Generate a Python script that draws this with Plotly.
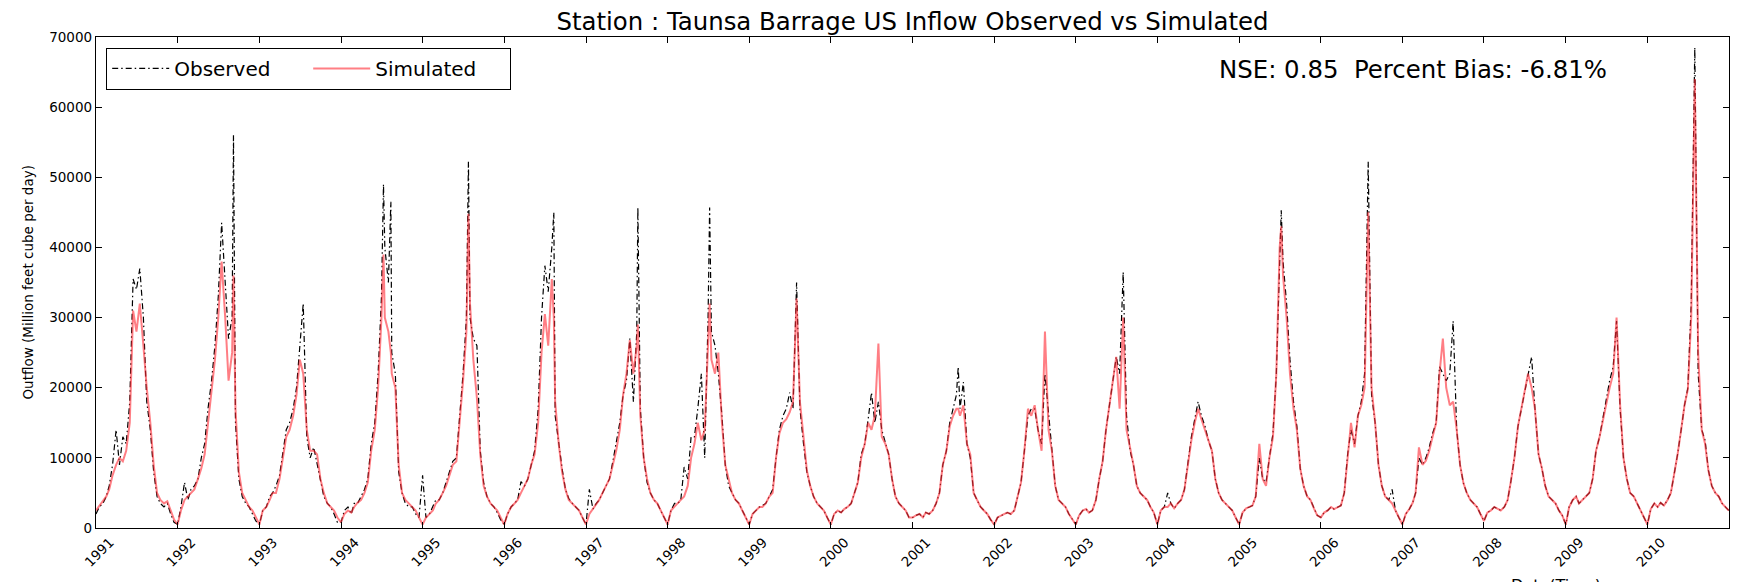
import plotly.graph_objects as go

# ---------------- data ----------------
years = list(range(1991, 2011))
tick_labels = [str(y) for y in years]

# semi-monthly readings: 1st and 16th of each month, 24 per year
sim_values = [
    2500, 3200, 3800, 4500, 5500, 7500, 9000, 10000, 9500, 11000, 15000, 31000, 28000, 32000, 26000, 20000, 15000, 9000, 5000, 4000, 3500, 3800, 2500, 1200,   # 1991
    500, 2500, 4000, 4500, 5000, 5500, 7000, 8500, 10500, 15000, 19000, 24000, 30000, 38000, 30000, 21000, 25000, 17000, 8000, 5000, 4000, 3000, 2500, 1500,    # 1992
    500, 2500, 3000, 4000, 5000, 5000, 7000, 10000, 13000, 14000, 16000, 19000, 24000, 22000, 14000, 11000, 11000, 10500, 7000, 5000, 3500, 3000, 2500, 1500,  # 1993
    800, 2000, 2500, 2200, 3000, 3600, 4000, 5000, 6500, 11000, 14000, 20000, 30000, 30000, 28000, 22000, 20000, 9000, 5000, 4000, 3500, 3000, 2500, 1500,     # 1994
    500, 1500, 2000, 2500, 3500, 4000, 5000, 6000, 7500, 9000, 9500, 15000, 21000, 28000, 32000, 24000, 18500, 10500, 6000, 4500, 3500, 3000, 2500, 1500,      # 1995
    500, 2000, 3000, 3500, 4000, 5000, 6000, 7000, 9000, 10500, 15000, 25000, 30500, 26000, 35500, 18000, 12000, 8000, 5500, 4000, 3500, 3000, 2500, 1500,     # 1996
    500, 2000, 2700, 3500, 4000, 5000, 6000, 7000, 9000, 11000, 14000, 19000, 22000, 26800, 22000, 26000, 16000, 10000, 7000, 5000, 4000, 3500, 2500, 1500,    # 1997
    500, 2500, 3000, 3500, 4000, 4500, 6000, 10000, 12000, 15000, 12500, 14000, 25000, 24000, 22000, 25000, 15000, 9000, 7000, 5000, 4000, 3500, 2500, 1500,   # 1998
    500, 2000, 2500, 3000, 3000, 3500, 4500, 5000, 10000, 13500, 15000, 15500, 16500, 18000, 32700, 18000, 13000, 8200, 6000, 4500, 3500, 3000, 2500, 1500,    # 1999
    500, 2000, 2500, 2200, 2700, 3000, 3500, 5000, 6500, 10000, 12000, 15000, 14000, 16000, 26300, 13000, 12000, 10500, 7000, 4500, 3500, 3000, 2500, 1500,    # 2000
    1500, 1800, 2000, 1500, 2200, 2000, 2500, 3500, 5000, 9000, 11000, 14500, 16000, 17000, 16000, 17500, 12000, 10500, 5000, 4000, 3000, 2500, 2000, 1200,    # 2001
    500, 1500, 1800, 2000, 2200, 2000, 2500, 4500, 6500, 11000, 17000, 16000, 17500, 14000, 11000, 28000, 14000, 11000, 6000, 4000, 3500, 3000, 2000, 1300,    # 2002
    500, 1800, 2500, 2700, 2200, 2500, 4000, 7000, 9500, 14000, 17500, 21000, 24400, 17000, 30000, 14000, 11500, 9000, 6000, 5000, 4500, 4000, 3000, 2200,     # 2003
    500, 2500, 3000, 3000, 3500, 2800, 3500, 4000, 5500, 9000, 12500, 15000, 17000, 15500, 14000, 12500, 11000, 7000, 5000, 4000, 3500, 3000, 2500, 1500,      # 2004
    500, 2200, 2800, 3000, 3200, 4500, 12000, 7000, 6000, 10000, 13000, 22000, 40000, 36000, 30000, 22000, 17000, 14000, 8500, 6000, 4500, 4000, 2800, 1800,   # 2005
    1500, 2200, 2500, 3000, 2700, 3000, 3200, 5000, 10500, 15000, 11500, 16000, 17500, 20000, 45000, 20000, 15000, 9000, 6000, 4500, 4000, 3500, 2500, 1500,   # 2006
    500, 2000, 2700, 3600, 5000, 11500, 9000, 9600, 11000, 13000, 15000, 22000, 27000, 20000, 17500, 18000, 14000, 9000, 6400, 5000, 4000, 3500, 3000, 2000,   # 2007
    1000, 2200, 2500, 3000, 2800, 2500, 3000, 4000, 6800, 10000, 14500, 17000, 19000, 22000, 20000, 17000, 10500, 8500, 6000, 4500, 4000, 3500, 2500, 1800,   # 2008
    500, 3000, 4000, 4500, 3500, 4000, 4500, 5000, 7000, 11000, 13000, 15500, 17500, 20000, 22000, 30000, 17500, 10000, 7000, 5000, 4500, 3500, 2500, 1500,    # 2009
    500, 2700, 3500, 3000, 3600, 3200, 4000, 5000, 7500, 10500, 14000, 17500, 19800, 30000, 64000, 25000, 14000, 12000, 8200, 6000, 5000, 4500, 3500, 3000,    # 2010
]

obs_values = [
    2000, 3000, 3500, 4500, 6000, 9000, 14000, 9000, 13000, 12000, 18000, 35500, 34000, 37000, 30000, 18000, 14000, 8000, 4500, 3500, 3000, 3500, 2000, 800,   # 1991
    500, 3000, 6500, 4000, 5500, 6000, 7000, 10000, 12000, 17000, 21000, 26000, 33000, 43500, 35000, 27000, 30000, 15000, 7000, 4500, 3500, 3000, 2000, 1000,  # 1992
    500, 2500, 3000, 4500, 5000, 6000, 7500, 11000, 14000, 15000, 17000, 20000, 26000, 32000, 13000, 10000, 11500, 9000, 6500, 4500, 3500, 3000, 2000, 800,    # 1993
    800, 2500, 3000, 2000, 3500, 3500, 4500, 5500, 7000, 12000, 15000, 22000, 33000, 40000, 35000, 25000, 22000, 8000, 5000, 3500, 3000, 3000, 2000, 1500,     # 1994
    7500, 1500, 2000, 3000, 4000, 4000, 5000, 6500, 8000, 9500, 10000, 16000, 22000, 30000, 30000, 27000, 26000, 11000, 6500, 4500, 3500, 3000, 2200, 1200,    # 1995
    500, 2000, 3000, 3600, 4000, 6600, 6000, 7000, 9000, 11000, 17000, 30000, 37400, 33700, 40000, 16000, 12000, 8500, 5500, 4200, 3500, 3000, 2500, 1500,     # 1996
    500, 5500, 2700, 3500, 4000, 5000, 6000, 7000, 9500, 12000, 15000, 19000, 21000, 27000, 18000, 28000, 17000, 10000, 6500, 5000, 4000, 3500, 2500, 1500,    # 1997
    500, 2500, 3500, 3500, 4000, 8700, 7000, 13000, 13000, 17000, 22000, 10000, 30000, 28000, 26000, 22000, 16000, 9000, 6000, 5000, 4000, 3500, 2500, 1500,   # 1998
    500, 2000, 2500, 3000, 3200, 3500, 4500, 5500, 10000, 14000, 16000, 17000, 19300, 17000, 35000, 17000, 12000, 8000, 6000, 4500, 3500, 3000, 2500, 1500,    # 1999
    500, 2000, 2500, 2200, 2700, 3000, 3500, 5000, 6500, 10500, 12000, 15500, 19300, 15000, 18000, 14000, 12000, 10500, 7000, 4500, 3500, 3000, 2500, 1500,    # 2000
    1500, 1800, 2000, 1500, 2200, 2000, 2500, 3500, 5000, 9000, 11000, 15000, 17000, 19000, 17000, 20800, 12000, 10000, 5000, 4000, 3000, 2500, 2000, 1200,    # 2001
    500, 1500, 1800, 2000, 2200, 2000, 2500, 4500, 6500, 11000, 16000, 17000, 17000, 14000, 12000, 22000, 16000, 11000, 6000, 4000, 3500, 3000, 2000, 1300,    # 2002
    500, 1800, 2500, 2700, 2200, 2500, 4000, 7000, 9500, 14000, 17500, 21000, 24400, 22000, 36500, 16000, 11000, 9000, 6000, 5000, 4500, 4000, 3000, 2200,     # 2003
    500, 2500, 3000, 5000, 3500, 2800, 3500, 4000, 5500, 9000, 13000, 15500, 18000, 16000, 14500, 12500, 11000, 7000, 5000, 4000, 3500, 3000, 2500, 1500,      # 2004
    500, 2200, 2800, 3000, 3200, 4500, 10000, 7000, 6500, 10000, 13500, 22000, 40000, 38000, 32000, 24000, 18000, 14500, 8500, 6000, 4500, 4000, 2800, 1800,   # 2005
    1500, 2200, 2500, 3000, 2700, 3000, 3200, 5000, 10500, 14000, 12000, 16000, 18000, 22000, 52200, 19000, 15000, 9000, 6000, 4500, 4000, 5500, 2500, 1500,   # 2006
    500, 2000, 2700, 3600, 5000, 10000, 9000, 10000, 11500, 13500, 15000, 23000, 22000, 21000, 22000, 29500, 14000, 9000, 6400, 5000, 4000, 3500, 3000, 2000,  # 2007
    1000, 2200, 2500, 3000, 2800, 2500, 3000, 4000, 6800, 10000, 14500, 17000, 19500, 22000, 24400, 17000, 10500, 8500, 6000, 4500, 4000, 3500, 2500, 1800,   # 2008
    500, 3000, 4000, 4500, 3500, 4000, 4500, 5000, 7000, 11000, 13000, 15500, 18000, 21000, 23000, 29500, 17000, 10000, 7000, 5000, 4500, 3500, 2500, 1500,    # 2009
    500, 2700, 3500, 3000, 3600, 3200, 4000, 5000, 7500, 10500, 14000, 17500, 20000, 32000, 68500, 22000, 14000, 12500, 8200, 6000, 5000, 4500, 3500, 3000,    # 2010
]

# extra readings at flood peaks that fall between the semi-monthly dates
peak_dates = ["1992-09-07", "1994-07-10", "1994-08-12", "1995-07-25", "1996-08-10",
              "1997-08-21", "1998-07-08", "2001-07-24", "2005-07-08", "2010-12-31"]
peak_sim = [36000, 39000, 25000, 44800, 30000, 29000, 32000, 17000, 43000, 2500]
peak_obs = [56000, 49000, 46500, 52200, 45000, 45700, 45700, 23000, 45300, 2500]

# ---------------- assemble series ----------------
base_dates = [f"{y}-{m:02d}-{d:02d}" for y in years for m in range(1, 13) for d in (1, 16)]
rows = sorted(
    list(zip(base_dates, sim_values, obs_values)) + list(zip(peak_dates, peak_sim, peak_obs)),
    key=lambda r: r[0],
)
dates = [r[0] for r in rows]
sim = [r[1] for r in rows]
obs = [r[2] for r in rows]

FONT = "DejaVu Sans"
W, H = 1742, 582
ML, MR, MT, MB = 96, 12, 37, 43
PW, PH = W - ML - MR, H - MT - MB


def px_x(p):
    return (p - ML) / PW


def px_y(p):
    return (H - MB - p) / PH


fig = go.Figure()
fig.add_trace(go.Scatter(
    x=dates, y=obs, mode="lines", name="Observed",
    line=dict(color="black", width=1.2, dash="6px,3px,1.5px,3px"),
))
fig.add_trace(go.Scatter(
    x=dates, y=sim, mode="lines", name="Simulated",
    line=dict(color="rgba(255,40,50,0.6)", width=2),
))

fig.update_layout(
    width=W, height=H,
    margin=dict(l=ML, r=MR, t=MT, b=MB),
    paper_bgcolor="white", plot_bgcolor="white",
    font=dict(family=FONT, color="black", size=13.5),
    title=dict(
        text="Station : Taunsa Barrage US Inflow Observed vs Simulated",
        x=px_x(913), xref="paper", xanchor="center",
        y=1 - 21 / H, yref="container", yanchor="middle",
        font=dict(family=FONT, size=24.4, color="black"),
    ),
    showlegend=True,
    legend=dict(
        orientation="h",
        x=px_x(106), y=px_y(48), xanchor="left", yanchor="top",
        xref="paper", yref="paper",
        bordercolor="black", borderwidth=1.2, bgcolor="white",
        font=dict(family=FONT, size=20, color="black"),
        entrywidth=129, entrywidthmode="pixels",
        itemwidth=57,
    ),
)

fig.update_xaxes(
    type="date",
    range=["1991-01-01", "2011-01-01"],
    tickmode="array",
    tickvals=[f"{y}-01-01" for y in years],
    ticktext=tick_labels,
    tickangle=-45,
    ticklabelshift=14,
    ticks="inside", ticklen=6, tickwidth=1, tickcolor="black",
    showline=True, linecolor="black", linewidth=1.3, mirror="ticks",
    showgrid=False, zeroline=False,
    tickfont=dict(family=FONT, size=13.5, color="black"),
)
fig.update_yaxes(
    range=[0, 70000], dtick=10000, tick0=0, tickformat="d",
    ticks="inside", ticklen=6, tickwidth=1, tickcolor="black",
    showline=True, linecolor="black", linewidth=1.3, mirror="ticks",
    showgrid=False, zeroline=False,
    tickfont=dict(family=FONT, size=13.5, color="black"),
)

fig.add_annotation(
    text="Outflow (Million feet cube per day)",
    xref="paper", yref="paper", x=px_x(27), y=0.5,
    xanchor="center", yanchor="middle", textangle=-90, showarrow=False,
    font=dict(family=FONT, size=13.5, color="black"),
)
fig.add_annotation(
    text="NSE: 0.85  Percent Bias: -6.81%",
    xref="paper", yref="paper", x=px_x(1218), y=px_y(70),
    xanchor="left", yanchor="middle", showarrow=False,
    font=dict(family=FONT, size=24.4, color="black"),
)
fig.add_annotation(
    text="Date(Time)",
    xref="paper", yref="paper", x=px_x(1510), y=px_y(586),
    xanchor="left", yanchor="top", showarrow=False,
    font=dict(family=FONT, size=16, color="black"),
)

fig.write_html("out.html")
